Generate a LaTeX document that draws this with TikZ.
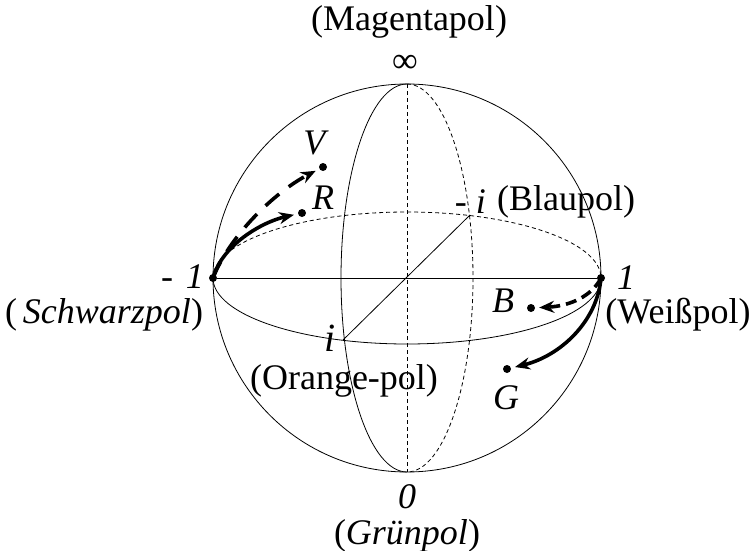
\documentclass[tikz,border=0pt]{standalone}
\usepackage{fontspec}
\setmainfont{Liberation Serif}
\usetikzlibrary{arrows.meta}
\begin{document}
\begin{tikzpicture}[x=1pt,y=-1pt,
  thinline/.style={line width=0.8pt},
  backline/.style={line width=0.8pt,dash pattern=on 4pt off 3pt},
  pt/.style={circle,fill=black,inner sep=0pt,minimum size=8pt},
  lbl/.style={inner sep=0pt,font=\fontsize{36}{42}\selectfont},
  bigarrow/.style={line width=3.6pt,-{Stealth[length=15pt,width=12pt]},shorten >=4pt},
  bigdash/.style={bigarrow,dash pattern=on 18pt off 12pt},
  smalldash/.style={bigarrow,dash pattern=on 11pt off 6pt}]
\useasboundingbox (0,0) rectangle (752,551);
% sphere outline
\node[circle,draw,thinline,minimum size=388pt,inner sep=0pt] (S) at (407,278) {};
\coordinate (O) at (407,278);
\coordinate (N) at (407,84);
\coordinate (Su) at (407,472);
% equator
\draw[thinline] (213,278) arc[start angle=180,end angle=0,x radius=194,y radius=66];
\draw[backline] (213,278) arc[start angle=180,end angle=360,x radius=194,y radius=66];
% meridian
\draw[thinline] (N) arc[start angle=270,end angle=90,x radius=66,y radius=194];
\draw[backline] (N) arc[start angle=270,end angle=450,x radius=66,y radius=194];
% axes
\coordinate (Ipt) at (343,340);
\coordinate (mIpt) at (470,215);
\node[pt] (M1) at (213,278) {};
\node[pt] (P1) at (601,278) {};
\draw[backline] (N) -- (Su);
\draw[thinline] (M1) -- (P1);
\draw[thinline] (Ipt) -- (mIpt);
% color points
\node[pt] (R) at (302,213) {};
\node[pt] (V) at (323,167) {};
\node[pt] (B) at (531,308) {};
\node[pt] (G) at (507,369) {};
% arrows
\draw[bigarrow] (M1.center) .. controls (222,245) and (262,222) .. (R);
\draw[bigdash] (M1.center) .. controls (230,235) and (275,192) .. (V);
\draw[smalldash] (P1.center) .. controls (592,296) and (570,306) .. (B);
\draw[bigarrow] (P1.center) .. controls (597,322) and (560,356) .. (G);
% labels
\node[lbl] (tMag) at (409,22) {(Magentapol)};
\node[lbl] (tInf) at (405,64) {∞};
\node[lbl,anchor=east] (tBlau0) at (486,202) {- \textit{i}};
\node[lbl,anchor=west] (tBlau) at (497,202) {(Blaupol)};
\node[lbl,anchor=east] (tM1) at (204,277) {-\hspace{0.35em}\textit{1}};
\node[lbl] (tSchw) at (104,315) {(\,\textit{Schwarzpol})};
\node[lbl] (tP1) at (626,278) {\textit{1}};
\node[lbl] (tWeiss) at (678,315) {(Weißpol)};
\node[lbl] (tB) at (503,301) {\textit{B}};
\node[lbl] (tG) at (506,398) {\textit{G}};
\node[lbl] (tV) at (316,143) {\textit{V}};
\node[lbl] (tR) at (323,198) {\textit{R}};
\node[inner sep=0pt,font=\fontsize{40}{46}\selectfont\itshape] (tI) at (330,338) {i};
\node[lbl] (tOr) at (344,381) {(Orange-pol)};
\node[lbl] (t0) at (407,497) {\textit{0}};
\node[lbl] (tGr) at (407,536) {(\textit{Grünpol})};
\end{tikzpicture}
\end{document}
